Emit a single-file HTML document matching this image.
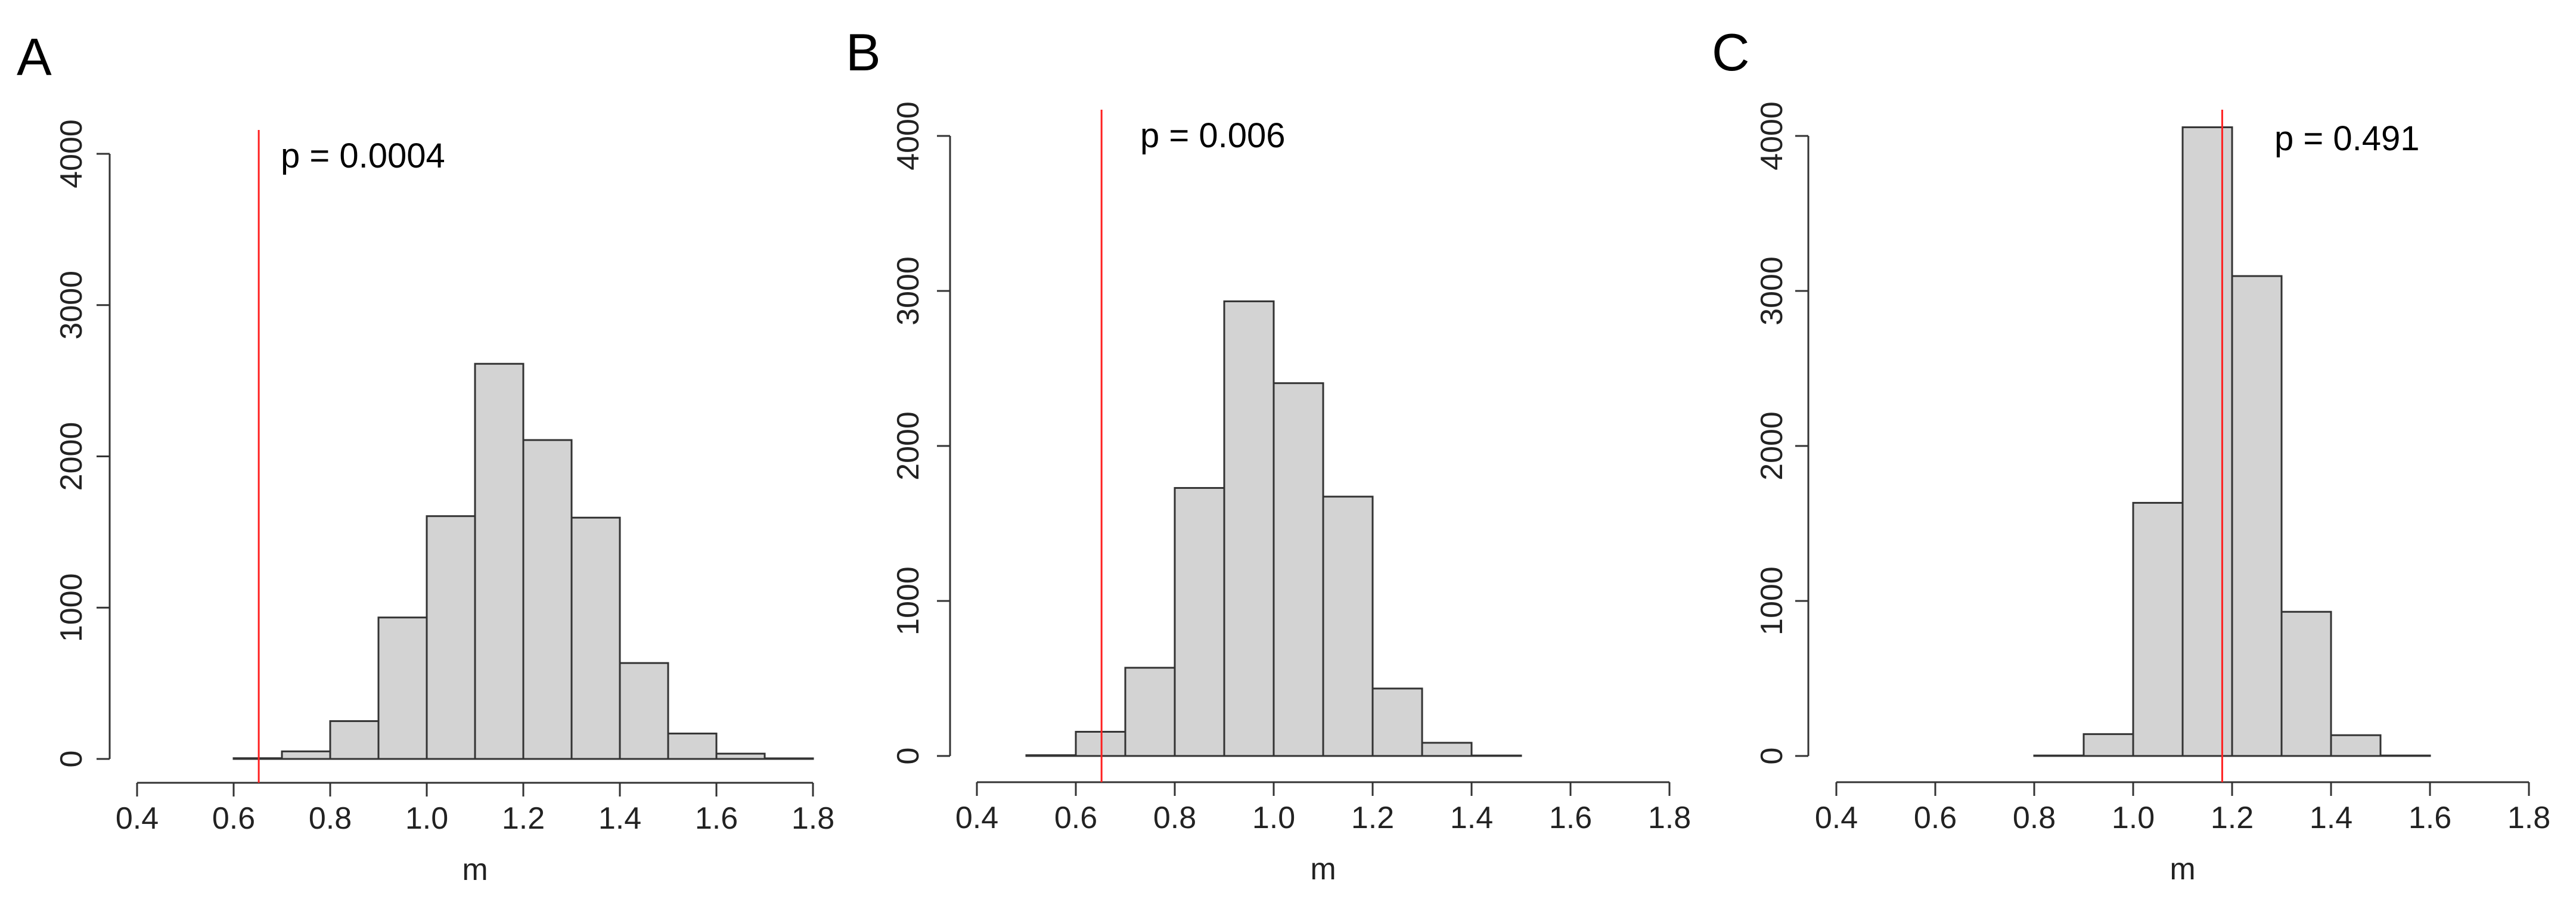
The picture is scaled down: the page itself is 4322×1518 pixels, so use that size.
<!DOCTYPE html>
<html><head><meta charset="utf-8"><style>
html,body{margin:0;padding:0;background:#fff;}
svg{display:block;font-family:"Liberation Sans",Arial,sans-serif;}
</style></head><body>
<svg id="fig" width="4322" height="1518" viewBox="0 0 4322 1518"></svg>
<script>
const binStartsA = [0.6,0.7,0.8,0.9,1.0,1.1,1.2,1.3,1.4,1.5,1.6,1.7];
const countsA = [5,50,250,935,1605,2612,2108,1595,634,168,35,4];
const binStartsB = [0.5,0.6,0.7,0.8,0.9,1.0,1.1,1.2,1.3,1.4];
const countsB = [5,156,569,1729,2933,2405,1673,435,85,3];
const binStartsC = [0.8,0.9,1.0,1.1,1.2,1.3,1.4,1.5];
const countsC = [3,141,1633,4056,3096,930,134,3];
const binWidth = 0.1;
const observedA = 0.652, observedB = 0.652, observedC = 1.18;
const pLabels = ["p = 0.0004","p = 0.006","p = 0.491"];
const xTicks = [0.4,0.6,0.8,1.0,1.2,1.4,1.6,1.8];
const yTicks = [0,1000,2000,3000,4000];

const NS="http://www.w3.org/2000/svg";
const svg=document.getElementById('fig');
function mk(tag,attrs,parent){const e=document.createElementNS(NS,tag);for(const k in attrs)e.setAttribute(k,attrs[k]);(parent||svg).appendChild(e);return e;}

const panels=[
 {id:'a',letter:'A',lx:28,ly:126,bins:binStartsA,counts:countsA,obs:observedA,p:pLabels[0],
  yAxisX:184,x04:230,x18:1364,y0:1273,y4000:258,xAxisY:1313,redTop:218,px:471,py:281,yLabX:119},
 {id:'b',letter:'B',lx:1419,ly:118,bins:binStartsB,counts:countsB,obs:observedB,p:pLabels[1],
  yAxisX:1594,x04:1639,x18:2801,y0:1268,y4000:228,xAxisY:1312,redTop:184,px:1913,py:247,yLabX:1523},
 {id:'c',letter:'C',lx:2872,ly:118,bins:binStartsC,counts:countsC,obs:observedC,p:pLabels[2],
  yAxisX:3034,x04:3081,x18:4243,y0:1268,y4000:228,xAxisY:1312,redTop:184,px:3816,py:252,yLabX:2972}
];

panels.forEach(P=>{
  const g=mk('g',{});
  
  
  const xs=v=>P.x04+(v-0.4)/1.4*(P.x18-P.x04);
  const ys=v=>P.y0-(v/4000)*(P.y0-P.y4000);
  const lab=mk('text',{x:P.lx,y:P.ly,'font-size':88,fill:'#000'},g);
  lab.textContent=P.letter;
  
  
  // y axis
  const ya=mk('line',{x1:P.yAxisX,x2:P.yAxisX,y1:ys(0),y2:ys(4000),stroke:'#333','stroke-width':3},g);
  
  
  yTicks.forEach(t=>{
    mk('line',{x1:P.yAxisX-22,x2:P.yAxisX,y1:ys(t),y2:ys(t),stroke:'#333','stroke-width':3},g);
    const tx=mk('text',{x:P.yLabX+18,y:ys(t),'font-size':52,'text-anchor':'middle',fill:'#222',transform:`rotate(-90 ${P.yLabX+18} ${ys(t)})`},g);
    tx.textContent=t;
    
    
  });
  // x axis
  const xa=mk('line',{x1:xs(0.4),x2:xs(1.8),y1:P.xAxisY,y2:P.xAxisY,stroke:'#333','stroke-width':3},g);
  
  
  xTicks.forEach(t=>{
    mk('line',{x1:xs(t),x2:xs(t),y1:P.xAxisY,y2:P.xAxisY+23,stroke:'#333','stroke-width':3},g);
    const tx=mk('text',{x:xs(t),y:P.xAxisY+77,'font-size':52,'text-anchor':'middle',fill:'#222'},g);
    tx.textContent=t.toFixed(1);
    
    
  });
  const xt=mk('text',{x:(xs(0.4)+xs(1.8))/2,y:P.xAxisY+163,'font-size':52,'text-anchor':'middle',fill:'#222'},g);
  xt.textContent='m';
  
  
  // bars
  P.bins.forEach((b,i)=>{
    const x1=xs(b),x2=xs(b+binWidth),y=ys(P.counts[i]);
    const r=mk('rect',{x:x1,y:y,width:x2-x1,height:Math.max(ys(0)-y,0),fill:'#d3d3d3',stroke:'#333','stroke-width':3},g);
    
    
  });
  // observed line
  const rl=mk('line',{x1:xs(P.obs),x2:xs(P.obs),y1:P.redTop,y2:P.xAxisY,stroke:'#ff2020','stroke-width':3},g);
  
  
  const pt=mk('text',{x:P.px,y:P.py,'font-size':58,fill:'#000'},g);
  pt.textContent=P.p;
  
  
});
</script>
</body></html>
